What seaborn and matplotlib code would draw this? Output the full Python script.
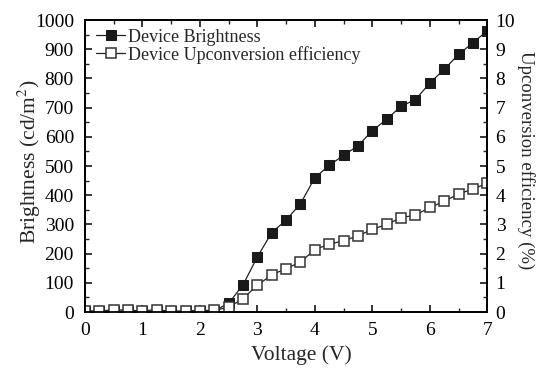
import numpy as np
import pandas as pd
import matplotlib
matplotlib.use("Agg")
import matplotlib.pyplot as plt
import seaborn as sns
from matplotlib.ticker import MultipleLocator

voltage = [0, 0.25, 0.5, 0.75, 1.0, 1.25, 1.5, 1.75, 2.0, 2.25, 2.5, 2.75, 3.0,
           3.25, 3.5, 3.75, 4.0, 4.25, 4.5, 4.75, 5.0, 5.25, 5.5, 5.75, 6.0,
           6.25, 6.5, 6.75, 7.0]
brightness = [2, 2, 3, 2, 2, 3, 2, 2, 3, 4, 30, 93, 189, 272, 315, 371, 460,
              502, 537, 569, 621, 660, 705, 727, 784, 831, 882, 922, 963]
upconversion = [0.04, 0.03, 0.08, 0.06, 0.04, 0.08, 0.02, 0.04, 0.05, 0.06,
                0.16, 0.46, 0.92, 1.27, 1.49, 1.71, 2.14, 2.32, 2.44, 2.61,
                2.83, 3.00, 3.23, 3.32, 3.58, 3.79, 4.04, 4.21, 4.41]

label_b = "Device Brightness"
label_u = "Device Upconversion efficiency"

df = pd.DataFrame({"Voltage": voltage, "Brightness": brightness, "Upconversion": upconversion})

sns.set_style("ticks")
plt.rcParams["font.family"] = ["Liberation Serif", "DejaVu Serif"]
plt.rcParams["mathtext.fontset"] = "stix"
plt.rcParams["xtick.direction"] = "in"
plt.rcParams["ytick.direction"] = "in"

fig = plt.figure(figsize=(5.45, 3.71), dpi=100)
ax = fig.add_axes([0.156, 0.159, 0.738, 0.787])
ax2 = ax.twinx()

sns.lineplot(data=df, x="Voltage", y="Brightness", ax=ax, color="#222222",
             linewidth=0.9, marker="s", markersize=7.5, markerfacecolor="#1a1a1a",
             markeredgecolor="#1a1a1a", label=label_b, legend=False)
sns.lineplot(data=df, x="Voltage", y="Upconversion", ax=ax2, color="#222222",
             linewidth=0.9, marker="s", markersize=7.5, markerfacecolor="white",
             markeredgecolor="#333333", markeredgewidth=1.1, label=label_u, legend=False)

ax.set_xlim(0, 7)
ax.set_ylim(0, 1000)
ax2.set_ylim(0, 10)
ax.xaxis.set_major_locator(MultipleLocator(1))
ax.xaxis.set_minor_locator(MultipleLocator(0.5))
ax.yaxis.set_major_locator(MultipleLocator(100))
ax.yaxis.set_minor_locator(MultipleLocator(50))
ax2.yaxis.set_major_locator(MultipleLocator(1))
ax2.yaxis.set_minor_locator(MultipleLocator(0.5))

for a in (ax, ax2):
    for s in a.spines.values():
        s.set_linewidth(1.3)
        s.set_color("black")
    a.tick_params(which="major", length=5, width=1.1, labelsize=14, colors="black")
    a.tick_params(which="minor", length=3, width=1.0)
ax.tick_params(axis="x", which="both", top=True)
ax.tick_params(axis="x", which="major", pad=7)
ax.tick_params(axis="y", which="both", right=False)
ax.tick_params(axis="y", which="major", pad=8)
ax2.tick_params(axis="y", which="both", left=False, right=True)
ax2.tick_params(axis="y", which="major", pad=6)

ax.set_xlabel("Voltage (V)", fontsize=15.5)
ax.xaxis.set_label_coords(0.537, -0.114)
ax.set_ylabel("Brightness (cd/m$^2$)", fontsize=15.5)
ax.yaxis.set_label_coords(-0.105, 0.515)
ax2.set_ylabel("Upconversion efficiency (%)", fontsize=13.5, rotation=270)
ax2.yaxis.set_label_coords(1.119, 0.52)

h1, l1 = ax.get_legend_handles_labels()
h2, l2 = ax2.get_legend_handles_labels()
ax2.legend(h1 + h2, l1 + l2, loc="upper left", frameon=False, fontsize=13,
           handlelength=1.6, handletextpad=0.15, borderaxespad=0.0,
           labelspacing=0.0, bbox_to_anchor=(0.01, 0.995))

fig.savefig("out.png", dpi=100)
